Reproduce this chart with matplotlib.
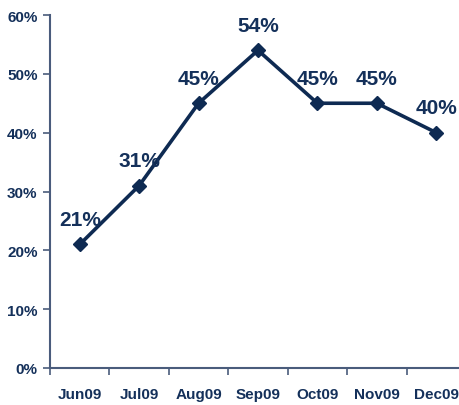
import matplotlib
matplotlib.use("Agg")
import matplotlib.pyplot as plt

months = ["Jun09", "Jul09", "Aug09", "Sep09", "Oct09", "Nov09", "Dec09"]
values = [21, 31, 45, 54, 45, 45, 40]
y_ticks = [0, 10, 20, 30, 40, 50, 60]

NAVY = "#0E2A52"
TEXT = "#14305A"
AXIS = "#4A5C7C"

plt.rcParams["font.family"] = ["Liberation Sans", "DejaVu Sans"]

fig = plt.figure(figsize=(4.59, 4.06), dpi=100)
ax = fig.add_axes([50 / 459, 37 / 406, 416 / 459, 353 / 406])

x = list(range(len(months)))
ax.plot(x, values, color=NAVY, linewidth=2.6, marker="D", markersize=7,
        clip_on=False, zorder=3)

for xi, v in zip(x, values):
    ax.annotate(f"{v}%", (xi, v), xytext=(0, 11), textcoords="offset points",
                ha="center", va="bottom", fontsize=15, fontweight="bold",
                color=TEXT)

ax.set_xlim(-0.5, 6.5)
ax.set_ylim(0, 60)
ax.set_yticks(y_ticks)
ax.set_yticklabels([f"{t}%" for t in y_ticks])

# category labels at centres, tick marks at boundaries
ax.set_xticks(x)
ax.set_xticklabels(months)
ax.set_xticks([i + 0.5 for i in range(-1, 7)], minor=True)
ax.tick_params(axis="x", which="major", length=0, pad=14)
ax.tick_params(axis="x", which="minor", length=5, width=1.2, color=AXIS)
ax.tick_params(axis="y", length=5, width=1.2, color=AXIS, pad=4)

for lbl in ax.get_xticklabels() + ax.get_yticklabels():
    lbl.set_fontweight("bold")
    lbl.set_fontsize(11)
    lbl.set_color(TEXT)

ax.spines[["top", "right"]].set_visible(False)
for s in ("left", "bottom"):
    ax.spines[s].set_color(AXIS)
    ax.spines[s].set_linewidth(1.5)

fig.savefig("out.png", dpi=100, facecolor="white")
